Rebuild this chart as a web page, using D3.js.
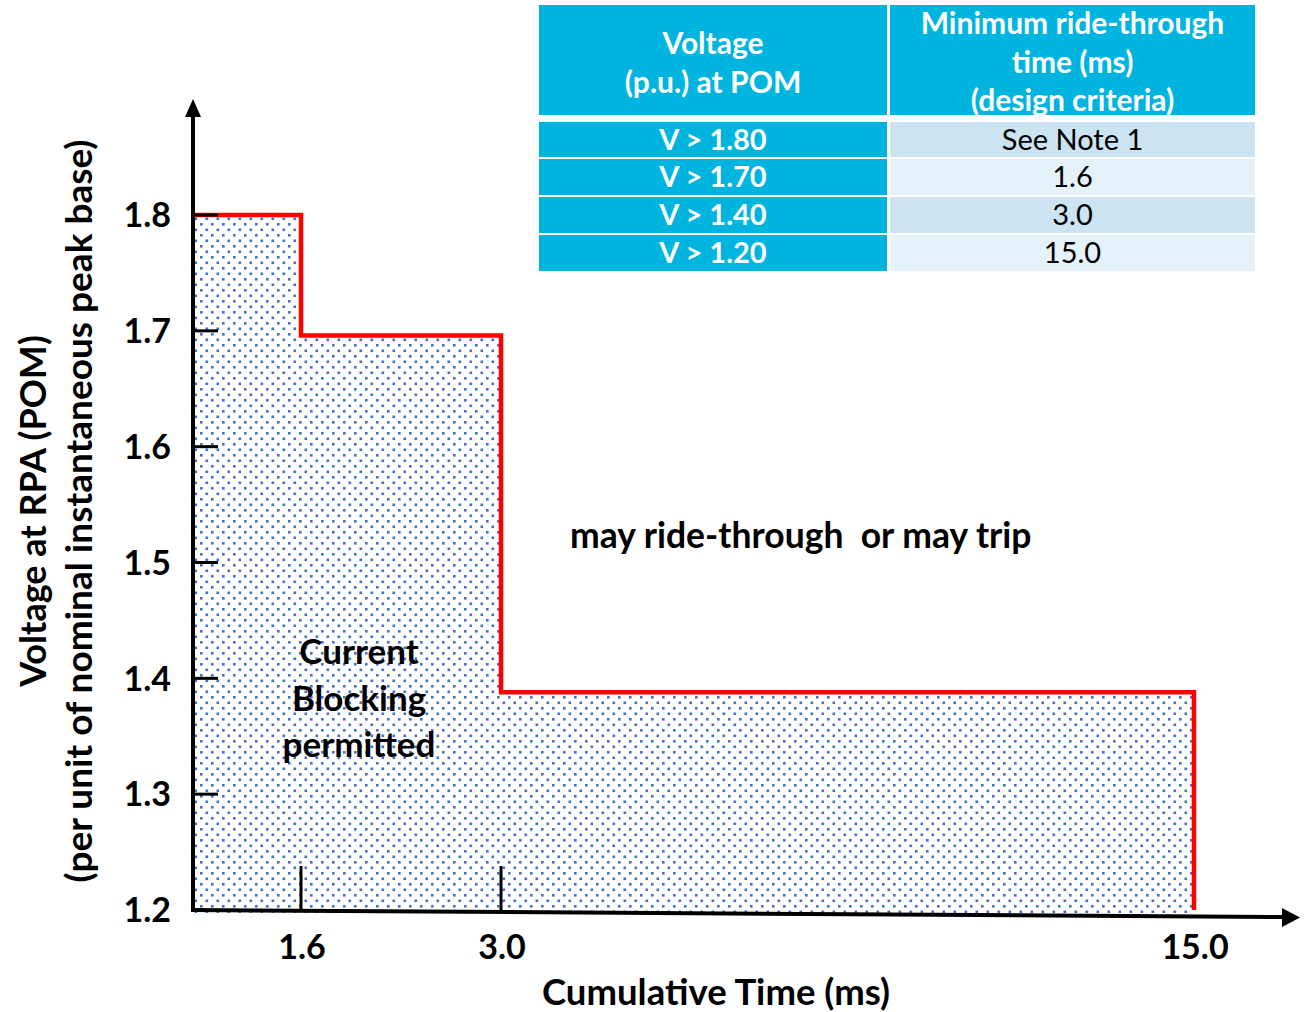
<!DOCTYPE html>
<html>
<head>
<meta charset="utf-8">
<script src="https://cdn.jsdelivr.net/npm/d3@7"></script>
<style>
  html, body { margin: 0; padding: 0; background: #fff; }
  svg { display: block; }
  text { font-family: Lato, "Open Sans", sans-serif; }
</style>
</head>
<body>
<svg id="chart" width="1307" height="1012"></svg>
<script>
// ---- data ----
const stepTimes = [0, 1.6, 3.0, 15.0];          // ms
const stepVoltages = [1.8, 1.696, 1.388, 1.2];   // p.u. level after each time
const yTickValues = [1.2, 1.3, 1.4, 1.5, 1.6, 1.7, 1.8];
const xTickValues = [1.6, 3.0, 15.0];
const xTickLabels = ["1.6", "3.0", "15.0"];
const tableHeader = [["Voltage", "(p.u.) at POM"], ["Minimum ride-through", "time (ms)", "(design criteria)"]];
const tableVoltages = ["V > 1.80", "V > 1.70", "V > 1.40", "V > 1.20"];
const tableTimes = ["See Note 1", "1.6", "3.0", "15.0"];
const blockingLabel = ["Current", "Blocking", "permitted"];
const regionLabel = "may ride-through  or may trip";
const xTitle = "Cumulative Time (ms)";
const yTitle = ["Voltage at RPA (POM)", "(per unit of nominal instantaneous peak base)"];

const svg = d3.select("#chart");

// ---- scales ----
const x = d3.scaleLinear().domain([0, 1.6, 3.0, 15.0]).range([193, 301, 501, 1194]);
const y = d3.scaleLinear().domain([1.2, 1.8]).range([910, 215]);

// ---- pattern ----
const defs = svg.append("defs");
const pat = defs.append("pattern").attr("id", "dots")
  .attr("patternUnits", "userSpaceOnUse").attr("width", 11).attr("height", 11)
  .attr("x", 2).attr("y", 3);
pat.append("rect").attr("width", 11).attr("height", 11).attr("fill", "#fff");
pat.append("rect").attr("x", 0).attr("y", 0).attr("width", 2.6).attr("height", 2.6).attr("fill", "#4472C4");
pat.append("rect").attr("x", 5.5).attr("y", 5.5).attr("width", 2.6).attr("height", 2.6).attr("fill", "#4472C4");

const stepData = stepTimes.map((t, i) => ({ t, v: stepVoltages[i] }));

// area
const area = d3.area().curve(d3.curveStepAfter)
  .x(d => x(d.t)).y0(y(1.2) + 3).y1(d => y(d.v));
svg.append("path").datum(stepData).attr("d", area).attr("fill", "url(#dots)");

// red step line
const line = d3.line().curve(d3.curveStepAfter).x(d => x(d.t)).y(d => y(d.v));
svg.append("path").datum(stepData).attr("d", line)
  .attr("fill", "none").attr("stroke", "#FF0000").attr("stroke-width", 4.5);

// ---- axes ----
const ax = svg.append("g");
ax.append("line").attr("x1", x(0)).attr("x2", x(0)).attr("y1", y(1.2) + 2).attr("y2", 112)
  .attr("stroke", "#000").attr("stroke-width", 4);
ax.append("path").attr("d", `M${x(0) - 8},${117} L${x(0)},${99} L${x(0) + 8},${117} Z`).attr("fill", "#000");
ax.append("line").attr("x1", x(0) - 2).attr("y1", y(1.2)).attr("x2", 1286).attr("y2", 917)
  .attr("stroke", "#000").attr("stroke-width", 4);
ax.append("path").attr("d", `M1282,908 L1300,917.5 L1282,927 Z`).attr("fill", "#000");

// y ticks
ax.selectAll(".yt").data(yTickValues.slice(1)).join("line")
  .attr("x1", x(0)).attr("x2", x(0) + 25).attr("y1", d => y(d)).attr("y2", d => y(d))
  .attr("stroke", "#000").attr("stroke-width", 3);
ax.selectAll(".ytl").data(yTickValues).join("text")
  .attr("x", 171).attr("y", d => y(d)).attr("dy", "0.36em")
  .attr("text-anchor", "end").attr("font-size", 34).attr("font-weight", "bold")
  .text(d => d.toFixed(1));

// x ticks
ax.selectAll(".xt").data(xTickValues.slice(0, 2)).join("line")
  .attr("x1", d => x(d)).attr("x2", d => x(d)).attr("y1", 866).attr("y2", 911)
  .attr("stroke", "#000").attr("stroke-width", 3);
ax.selectAll(".xtl").data(xTickValues).join("text")
  .attr("x", d => x(d) + 1).attr("y", 959)
  .attr("text-anchor", "middle").attr("font-size", 34).attr("font-weight", "bold")
  .text((d, i) => xTickLabels[i]);

// titles
svg.append("text").attr("x", 716).attr("y", 1005).attr("text-anchor", "middle")
  .attr("font-size", 36.5).attr("font-weight", "bold").text(xTitle);
const yt = svg.append("g").attr("transform", "translate(0,511) rotate(-90)");
yt.append("text").attr("x", 0).attr("y", 46).attr("text-anchor", "middle")
  .attr("font-size", 36).attr("font-weight", "bold").text(yTitle[0]);
yt.append("text").attr("x", 0).attr("y", 92).attr("text-anchor", "middle")
  .attr("font-size", 37).attr("font-weight", "bold").text(yTitle[1]);

// annotations
svg.append("text").attr("x", 570).attr("y", 548).attr("font-size", 35.5).attr("font-weight", "bold")
  .style("white-space", "pre").text(regionLabel);
svg.append("g").selectAll("text").data(blockingLabel).join("text")
  .attr("x", 359).attr("y", (d, i) => 664 + i * 46.5).attr("text-anchor", "middle")
  .attr("font-size", 35).attr("font-weight", "bold").text(d => d);

// ---- table ----
const tbl = svg.append("g");
const colX = [539, 890];
const colW = [348, 365];
const cyan = "#00B4E0";
tbl.selectAll(".hd").data(colX).join("rect")
  .attr("x", d => d).attr("y", 5).attr("width", (d, i) => colW[i]).attr("height", 110).attr("fill", cyan);
defs.append("clipPath").attr("id", "hdclip").append("rect")
  .attr("x", 539).attr("y", 5).attr("width", 716).attr("height", 110);
tableHeader.forEach((lines, c) => {
  const cx = colX[c] + colW[c] / 2;
  const y0 = c === 0 ? 54 : 34;
  tbl.append("g").attr("clip-path", "url(#hdclip)").selectAll("text").data(lines).join("text")
    .attr("x", cx).attr("y", (d, i) => y0 + i * 38.5).attr("text-anchor", "middle")
    .attr("fill", "#fff").attr("font-size", 30).attr("font-weight", "bold").text(d => d);
});
const rowY = [122, 159, 197, 235];
const rowH = [35, 36, 36, 36];
const rightFill = ["#CCE3F2", "#E6F2FA", "#CCE3F2", "#E6F2FA"];
tbl.selectAll(".rl").data(tableVoltages).join("rect")
  .attr("x", colX[0]).attr("y", (d, i) => rowY[i]).attr("width", colW[0]).attr("height", (d, i) => rowH[i]).attr("fill", cyan);
tbl.selectAll(".rr").data(tableTimes).join("rect")
  .attr("x", colX[1]).attr("y", (d, i) => rowY[i]).attr("width", colW[1]).attr("height", (d, i) => rowH[i]).attr("fill", (d, i) => rightFill[i]);
tbl.selectAll(".tl").data(tableVoltages).join("text")
  .attr("x", colX[0] + colW[0] / 2).attr("y", (d, i) => rowY[i] + rowH[i] / 2).attr("dy", "0.36em")
  .attr("text-anchor", "middle").attr("fill", "#fff").attr("font-size", 29).attr("font-weight", "bold").text(d => d);
tbl.selectAll(".tr").data(tableTimes).join("text")
  .attr("x", colX[1] + colW[1] / 2).attr("y", (d, i) => rowY[i] + rowH[i] / 2).attr("dy", "0.36em")
  .attr("text-anchor", "middle").attr("fill", "#000").attr("font-size", 29).text(d => d);
</script>
</body>
</html>
